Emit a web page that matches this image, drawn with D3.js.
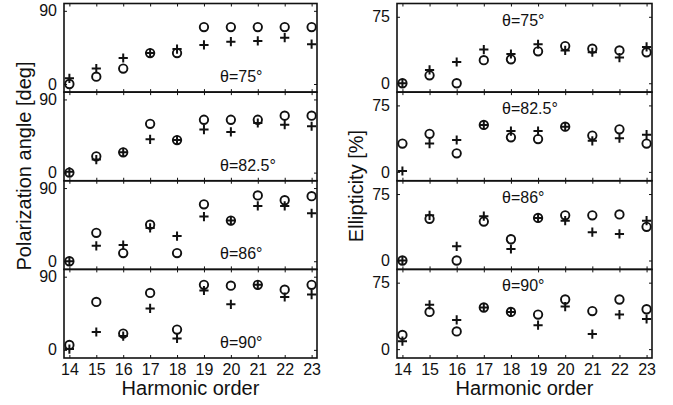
<!DOCTYPE html>
<html>
<head>
<meta charset="utf-8">
<script src="https://cdn.jsdelivr.net/npm/d3@7"></script>
<style>
  body { margin: 0; background: white; }
  text { font-family: "Liberation Sans", Arial, Helvetica, sans-serif; fill: #111; }
</style>
</head>
<body>
<script>
// harmonic orders on the x axis
var harmonics = [14, 15, 16, 17, 18, 19, 20, 21, 22, 23]
var thetaLabels = ["θ=75°", "θ=82.5°", "θ=86°", "θ=90°"]

// polarization angle [deg], one row per theta
var polCircle = [
	[0, 9, 19, 38, 38, 70, 70, 70, 70, 70],
	[0, 20, 25, 60, 40, 65, 65, 65, 70, 70],
	[0, 35, 10, 45, 10, 70, 50, 81, 75, 80],
	[6, 59, 20, 70, 25, 80, 79, 80, 74, 80]
]
var polCross = [
	[7, 19, 32, 38, 43, 48, 52, 53, 57, 49],
	[1, 16, 25, 41, 40, 53, 50, 61, 59, 57],
	[0, 19, 20, 41, 31, 55, 50, 68, 68, 59],
	[1, 22, 17, 51, 14, 73, 56, 80, 65, 68]
]

// ellipticity [%], one row per theta
var ellCircle = [
	[0, 9, 0, 26, 27, 36, 42, 39, 37, 35],
	[32, 43, 21, 53, 39, 37, 51, 41, 48, 32],
	[0, 47, 0, 44, 24, 48, 51, 51, 52, 38],
	[16, 42, 20, 47, 42, 39, 56, 43, 56, 45]
]
var ellCross = [
	[0, 15, 24, 38, 33, 44, 37, 35, 29, 41],
	[1, 32, 36, 53, 46, 46, 51, 35, 38, 42],
	[0, 51, 16, 50, 13, 48, 45, 32, 30, 45],
	[9, 50, 33, 47, 42, 27, 48, 17, 39, 34]
]

var polTicks = [0, 90]
var ellTicks = [0, 75]

var width = 673, height = 405
var plotTop = 3.5, plotBottom = 358
var panelH = (plotBottom - plotTop) / 4

var svg = d3.select("body").append("svg")
	.attr("width", width)
	.attr("height", height)

// one column of four stacked panels
function drawColumn(x0, x1, yDomain, yTicks, circles, crosses, labelPos, yLabel, yLabelPos) {
	var x = d3.scaleLinear().domain([13.8, 23.2]).range([x0, x1])

	for (var p = 0; p < 4; p++) {
		var pt = plotTop + p * panelH
		var pb = pt + panelH
		var y = d3.scaleLinear().domain(yDomain).range([pb, pt])
		var g = svg.append("g")

		// ticks, all pointing inward
		var bottomAxis = d3.axisBottom(x).tickValues(harmonics).tickSizeInner(-3).tickSizeOuter(0).tickPadding(6)
		if (p < 3) bottomAxis.tickFormat("")
		g.append("g").attr("transform", "translate(0," + pb + ")").call(bottomAxis)
		g.append("g").attr("transform", "translate(0," + pt + ")")
			.call(d3.axisTop(x).tickValues(harmonics).tickSizeInner(-3).tickSizeOuter(0).tickFormat(""))
		g.append("g").attr("transform", "translate(" + x0 + ",0)")
			.call(d3.axisLeft(y).tickValues(yTicks).tickSizeInner(-3).tickSizeOuter(0).tickPadding(7))
		g.append("g").attr("transform", "translate(" + x1 + ",0)")
			.call(d3.axisRight(y).tickValues(yTicks).tickSizeInner(-3).tickSizeOuter(0).tickFormat(""))
		g.selectAll(".domain").remove()
		g.selectAll(".tick line").attr("stroke", "#111").attr("stroke-width", 1)
		g.selectAll(".tick text").style("font-size", "16px").attr("fill", "#111")
			.style("font-family", '"Liberation Sans", Arial, sans-serif')

		g.append("rect")
			.attr("x", x0).attr("y", pt)
			.attr("width", x1 - x0).attr("height", panelH)
			.attr("fill", "none").attr("stroke", "#111").attr("stroke-width", 1.6)

		// markers
		g.selectAll("circle.m").data(circles[p]).enter().append("circle")
			.attr("class", "m")
			.attr("cx", function(d, i) { return x(harmonics[i]) })
			.attr("cy", function(d) { return y(d) })
			.attr("r", 4.2)
			.attr("fill", "none").attr("stroke", "#111").attr("stroke-width", 1.9)

		g.selectAll("path.c").data(crosses[p]).enter().append("path")
			.attr("class", "c")
			.attr("d", function(d, i) {
				var cx = x(harmonics[i]), cy = y(d)
				return "M" + (cx - 4.6) + "," + cy + "H" + (cx + 4.6) + "M" + cx + "," + (cy - 4.6) + "V" + (cy + 4.6)
			})
			.attr("stroke", "#111").attr("stroke-width", 2)

		g.append("text")
			.attr("x", labelPos.x)
			.attr("y", labelPos.fromTop ? pt + labelPos.dy : pb + labelPos.dy)
			.style("font-size", "16px")
			.text(thetaLabels[p])
	}

	svg.append("text")
		.attr("x", (x0 + x1) / 2).attr("y", 395)
		.attr("text-anchor", "middle")
		.style("font-size", "20px")
		.text("Harmonic order")

	svg.append("text")
		.attr("transform", "translate(" + yLabelPos[0] + "," + yLabelPos[1] + ") rotate(-90)")
		.attr("text-anchor", "middle")
		.style("font-size", "20px")
		.text(yLabel)
}

drawColumn(64, 317, [-10, 99], polTicks, polCircle, polCross,
	{x: 220, dy: -10, fromTop: false}, "Polarization angle [deg]", [31, 166])
drawColumn(397, 652, [-10, 90], ellTicks, ellCircle, ellCross,
	{x: 502, dy: 22, fromTop: true}, "Ellipticity [%]", [363, 186])
</script>
</body>
</html>
